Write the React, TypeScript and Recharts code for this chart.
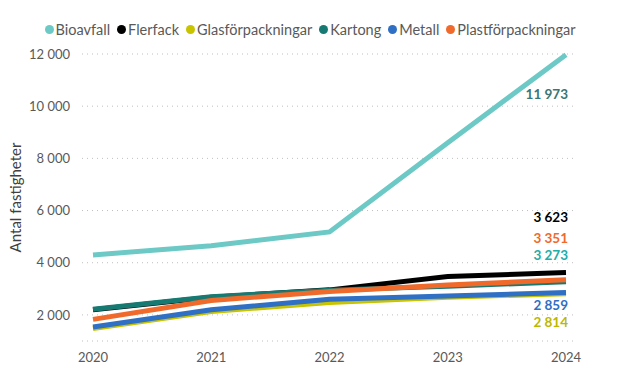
import React from 'react';
import { LineChart, Line, XAxis, YAxis, CartesianGrid, LabelList } from 'recharts';

const years = ['2020', '2021', '2022', '2023', '2024'];
const bioavfall = [4300, 4650, 5180, 8600, 11973];
const flerfack = [2200, 2680, 2960, 3470, 3623];
const glas = [1480, 2130, 2480, 2680, 2814];
const kartong = [2220, 2700, 2950, 3100, 3273];
const metall = [1540, 2200, 2600, 2720, 2859];
const plast = [1830, 2550, 2900, 3150, 3351];
const yTicks = [2000, 4000, 6000, 8000, 10000, 12000];

const FONT = 'Lato, "Open Sans", sans-serif';

const series = [
  { key: 'Bioavfall', values: bioavfall, color: '#6CC9C5', labelColor: '#3A7673', dy: 39 },
  { key: 'Flerfack', values: flerfack, color: '#000000', labelColor: '#000000', dy: -56 },
  { key: 'Glasförpackningar', values: glas, color: '#C8C400', labelColor: '#BDB800', dy: 28 },
  { key: 'Kartong', values: kartong, color: '#177A72', labelColor: '#22ADA8', dy: -27 },
  { key: 'Metall', values: metall, color: '#2F6FC4', labelColor: '#2F6FC4', dy: 13 },
  { key: 'Plastförpackningar', values: plast, color: '#F06A2C', labelColor: '#F06A2C', dy: -42 },
];

const data = years.map((y, i) => {
  const row: Record<string, any> = { year: y };
  series.forEach((s) => (row[s.key] = s.values[i]));
  return row;
});

const fmtTick = (v: number) => String(v).replace(/\B(?=(\d{3})+(?!\d))/g, ' ');

const makeLabel = (color: string, dy: number) => (props: any) => {
  const { x, y, value, index } = props;
  if (index !== years.length - 1) return null;
  return (
    <text x={x + 2} y={y + dy} dy={5} textAnchor="end" fill={color} fontSize={13.5} fontWeight={700} fontFamily={FONT}>
      {fmtTick(value)}
    </text>
  );
};

export default function App() {
  return (
    <div style={{ position: 'absolute', left: 0, top: 0, width: 629, height: 386, background: '#fff' }}>
      <div
        style={{
          position: 'absolute',
          top: 21,
          left: 0,
          width: 629,
          display: 'flex',
          justifyContent: 'center',
          gap: 7,
          fontFamily: FONT,
          fontSize: 14.5,
          color: '#595959',
          paddingRight: 9,
          boxSizing: 'border-box',
        }}
      >
        {series.map((s) => (
          <span key={s.key} style={{ display: 'flex', alignItems: 'center' }}>
            <span
              style={{ width: 9, height: 9, borderRadius: 5, background: s.color, display: 'inline-block', marginRight: 2 }}
            />
            {s.key}
          </span>
        ))}
      </div>
      <LineChart width={629} height={386} data={data} margin={{ top: 54, right: 56, left: 20, bottom: 15 }}>
        <CartesianGrid vertical={false} stroke="#BFBFBF" strokeDasharray="1 4" />
        <XAxis
          dataKey="year"
          axisLine={false}
          tickLine={false}
          padding={{ left: 11, right: 7 }}
          height={30}
          tick={{ fill: '#595959', fontSize: 13, fontFamily: FONT }}
          tickMargin={6}
        />
        <YAxis
          domain={[1000, 12000]}
          ticks={yTicks}
          axisLine={false}
          tickLine={false}
          width={62}
          tickFormatter={fmtTick}
          tick={{ fill: '#595959', fontSize: 13, fontFamily: FONT }}
          tickMargin={6}
          label={{
            value: 'Antal fastigheter',
            angle: -90,
            position: 'insideLeft',
            offset: 0,
            dx: -4,
            style: { fill: '#404040', fontSize: 15, fontFamily: FONT, textAnchor: 'middle' },
          }}
        />
        {series.map((s) => (
          <Line
            key={s.key}
            type="linear"
            dataKey={s.key}
            stroke={s.color}
            strokeWidth={5}
            dot={false}
            isAnimationActive={false}
          >
            <LabelList dataKey={s.key} content={makeLabel(s.labelColor, s.dy)} />
          </Line>
        ))}
      </LineChart>
    </div>
  );
}
